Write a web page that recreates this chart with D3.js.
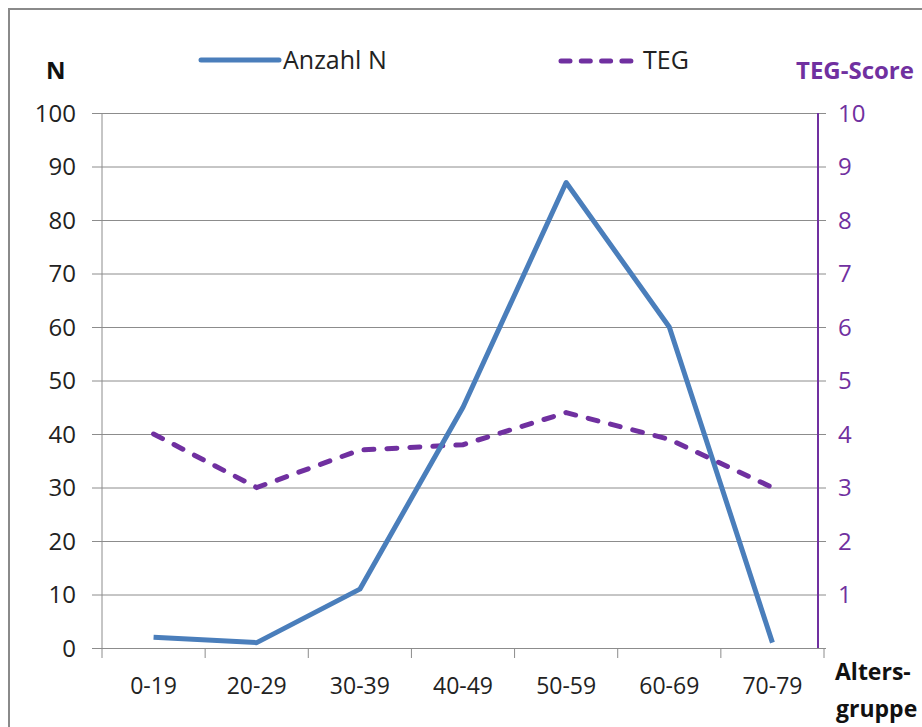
<!DOCTYPE html>
<html>
<head>
<meta charset="utf-8">
<script src="https://cdn.jsdelivr.net/npm/d3@7"></script>
<style>
  body { margin: 0; background: #fff; }
  text { font-family: "Open Sans", "Noto Sans", sans-serif; }
</style>
</head>
<body>
<svg></svg>
<script>
// age groups and the two series
const groups = ['0-19', '20-29', '30-39', '40-49', '50-59', '60-69', '70-79']
const anzahlN = [2, 1, 11, 45, 87, 60, 1]
const tegScore = [4.0, 3.0, 3.7, 3.8, 4.4, 3.9, 3.0]
const leftTicks = [0, 10, 20, 30, 40, 50, 60, 70, 80, 90, 100]
const rightTicks = [1, 2, 3, 4, 5, 6, 7, 8, 9, 10]

const
    W = 922,
    H = 727,
    LEFT = 102,
    RIGHT = 824,
    TOP = 113,
    BOTTOM = 648,
    BLUE = '#4a7ebb',
    PURPLE = '#7030a0',
    GRID = '#8c8c8c',
    INK = '#222'

let svg = d3.select('svg')
    .attr('width', W)
    .attr('height', H)

// outer frame
svg.append('rect')
    .attr('x', 9).attr('y', 9)
    .attr('width', W).attr('height', H)
    .attr('fill', 'none')
    .attr('stroke', '#8a8a8a')
    .attr('stroke-width', 2)

let x = d3.scaleBand().domain(groups).range([LEFT, RIGHT])
let yL = d3.scaleLinear().domain([0, 100]).range([BOTTOM, TOP])
let yR = d3.scaleLinear().domain([0, 10]).range([BOTTOM, TOP])

// gridlines + left axis
let leftAxis = d3.axisLeft(yL).tickValues(leftTicks).tickSize(10).tickPadding(16)
let gl = svg.append('g')
    .attr('transform', `translate(${LEFT},0)`)
    .call(leftAxis)
gl.select('.domain').attr('stroke', GRID).attr('d', `M0,${TOP}V${BOTTOM}`)
gl.selectAll('.tick line').attr('stroke', GRID).attr('x1', -10).attr('x2', RIGHT - LEFT + 2)
gl.selectAll('.tick text').attr('fill', INK).style('font-size', '24px').attr('dy', '0.35em')

// bottom axis
let bottomAxis = d3.axisBottom(x).tickSize(10).tickPadding(20).tickSizeOuter(0)
let gb = svg.append('g')
    .attr('transform', `translate(0,${BOTTOM})`)
    .call(bottomAxis)
gb.select('.domain').attr('stroke', GRID)
gb.selectAll('.tick line').remove()
gb.selectAll('.tick text').attr('fill', INK).style('font-size', '23px')
// category boundary ticks
gb.selectAll('.sep')
    .data(groups.concat(['end']))
    .enter()
    .append('line')
        .attr('x1', (d, i) => LEFT + i * x.bandwidth())
        .attr('x2', (d, i) => LEFT + i * x.bandwidth())
        .attr('y1', 0).attr('y2', 10)
        .attr('stroke', GRID)

// right axis (TEG score)
let rightAxis = d3.axisRight(yR).tickValues(rightTicks).tickSize(0).tickPadding(20)
let gr = svg.append('g')
    .attr('transform', `translate(${RIGHT - 6},0)`)
    .call(rightAxis)
gr.select('.domain').attr('stroke', PURPLE).attr('stroke-width', 2).attr('d', `M0,${TOP}V${BOTTOM}`)
gr.selectAll('.tick text').attr('fill', PURPLE).style('font-size', '24px').attr('dy', '0.35em')

// lines
let lineN = d3.line()
    .x((d, i) => x(groups[i]) + x.bandwidth() / 2)
    .y(d => yL(d))
let lineT = d3.line()
    .x((d, i) => x(groups[i]) + x.bandwidth() / 2)
    .y(d => yR(d))

svg.append('path')
    .datum(tegScore)
    .attr('d', lineT)
    .attr('fill', 'none')
    .attr('stroke', PURPLE)
    .attr('stroke-width', 5)
    .attr('stroke-linecap', 'round')
    .attr('stroke-dasharray', '10,13')

svg.append('path')
    .datum(anzahlN)
    .attr('d', lineN)
    .attr('fill', 'none')
    .attr('stroke', BLUE)
    .attr('stroke-width', 5)
    .attr('stroke-linejoin', 'round')

// legend
svg.append('line')
    .attr('x1', 201).attr('x2', 279).attr('y1', 60).attr('y2', 60)
    .attr('stroke', BLUE).attr('stroke-width', 5).attr('stroke-linecap', 'round')
svg.append('text').attr('x', 283).attr('y', 69).text('Anzahl N')
    .attr('fill', INK).style('font-size', '25px')
svg.append('line')
    .attr('x1', 561).attr('x2', 638).attr('y1', 61).attr('y2', 61)
    .attr('stroke', PURPLE).attr('stroke-width', 5).attr('stroke-linecap', 'round')
    .attr('stroke-dasharray', '9,11.3')
svg.append('text').attr('x', 643).attr('y', 69).text('TEG')
    .attr('fill', INK).style('font-size', '25px')

// axis titles
svg.append('text').attr('x', 46).attr('y', 79).text('N')
    .attr('fill', '#111').style('font-size', '24px').style('font-weight', 'bold')
svg.append('text').attr('x', 796).attr('y', 79).text('TEG-Score')
    .attr('fill', PURPLE).style('font-size', '24px').style('font-weight', 'bold')
svg.append('text').attr('x', 835).attr('y', 680).text('Alters-')
    .attr('fill', '#111').style('font-size', '23px').style('font-weight', 'bold')
svg.append('text').attr('x', 836).attr('y', 717).text('gruppe')
    .attr('fill', '#111').style('font-size', '23px').style('font-weight', 'bold')
</script>
</body>
</html>
